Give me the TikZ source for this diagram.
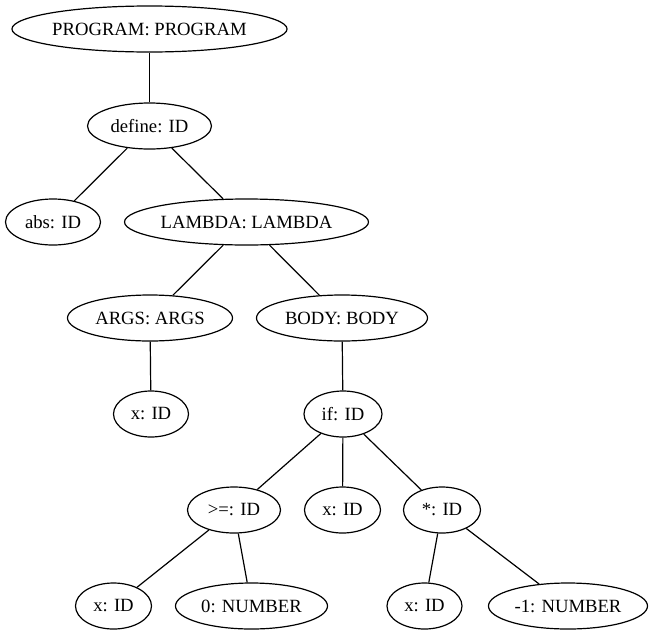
\documentclass[tikz,border=0pt]{standalone}
\usepackage{fontspec}
\setmainfont{Liberation Serif}
\usetikzlibrary{shapes.geometric}

\begin{document}
\begin{tikzpicture}
	[
	x=1pt, y=-1pt,
	tn/.style={draw = black, shape = ellipse, line width=1.2pt, inner sep=0pt,
		minimum height=46pt, font=\fontsize{18.67}{22}\selectfont},
	every path/.style={line width=1.2pt}
	]
	\useasboundingbox (0,0) rectangle (653,635);
	
	% From top to bottom
	\node[tn, minimum width=274pt](prog) at (149.5, 29){PROGRAM: PROGRAM};
	\node[tn, minimum width=124pt](define) at (149.5, 126){define: ID};
	\node[tn, minimum width=95pt](abs) at (53, 222){abs: ID};
	\node[tn, minimum width=244pt](lambda) at (246.5, 222){LAMBDA: LAMBDA};
	\node[tn, minimum width=165pt](args) at (150, 318){ARGS: ARGS};
	\node[tn, minimum width=171pt](body) at (342, 318){BODY: BODY};
	\node[tn, minimum width=75pt](x1) at (151, 414){x: ID};
	\node[tn, minimum width=78pt](ifn) at (343, 414){if: ID};
	\node[tn, minimum width=93pt](ge) at (234, 510){>=: ID};
	\node[tn, minimum width=76pt](x2) at (342.5, 510){x: ID};
	\node[tn, minimum width=77pt](mul) at (442, 510){*: ID};
	\node[tn, minimum width=76pt](x3) at (113.5, 606){x: ID};
	\node[tn, minimum width=152pt](zero) at (251.5, 606){0: NUMBER};
	\node[tn, minimum width=75pt](x4) at (424.5, 606){x: ID};
	\node[tn, minimum width=159pt](neg) at (568, 606){-1: NUMBER};
	
	\draw[-] (prog) -- (define);
	
	\draw[-] (define) -- (abs);
	\draw[-] (define) -- (lambda);
	
	\draw[-] (lambda) -- (args);
	\draw[-] (lambda) -- (body);
	
	\draw[-] (args) -- (x1);
	\draw[-] (body) -- (ifn);
	
	\draw[-] (ifn) -- (ge);
	\draw[-] (ifn) -- (x2);
	\draw[-] (ifn) -- (mul);
	
	\draw[-] (ge) -- (x3);
	\draw[-] (ge) -- (zero);
	
	\draw[-] (mul) -- (x4);
	\draw[-] (mul) -- (neg);
\end{tikzpicture}
\end{document}
